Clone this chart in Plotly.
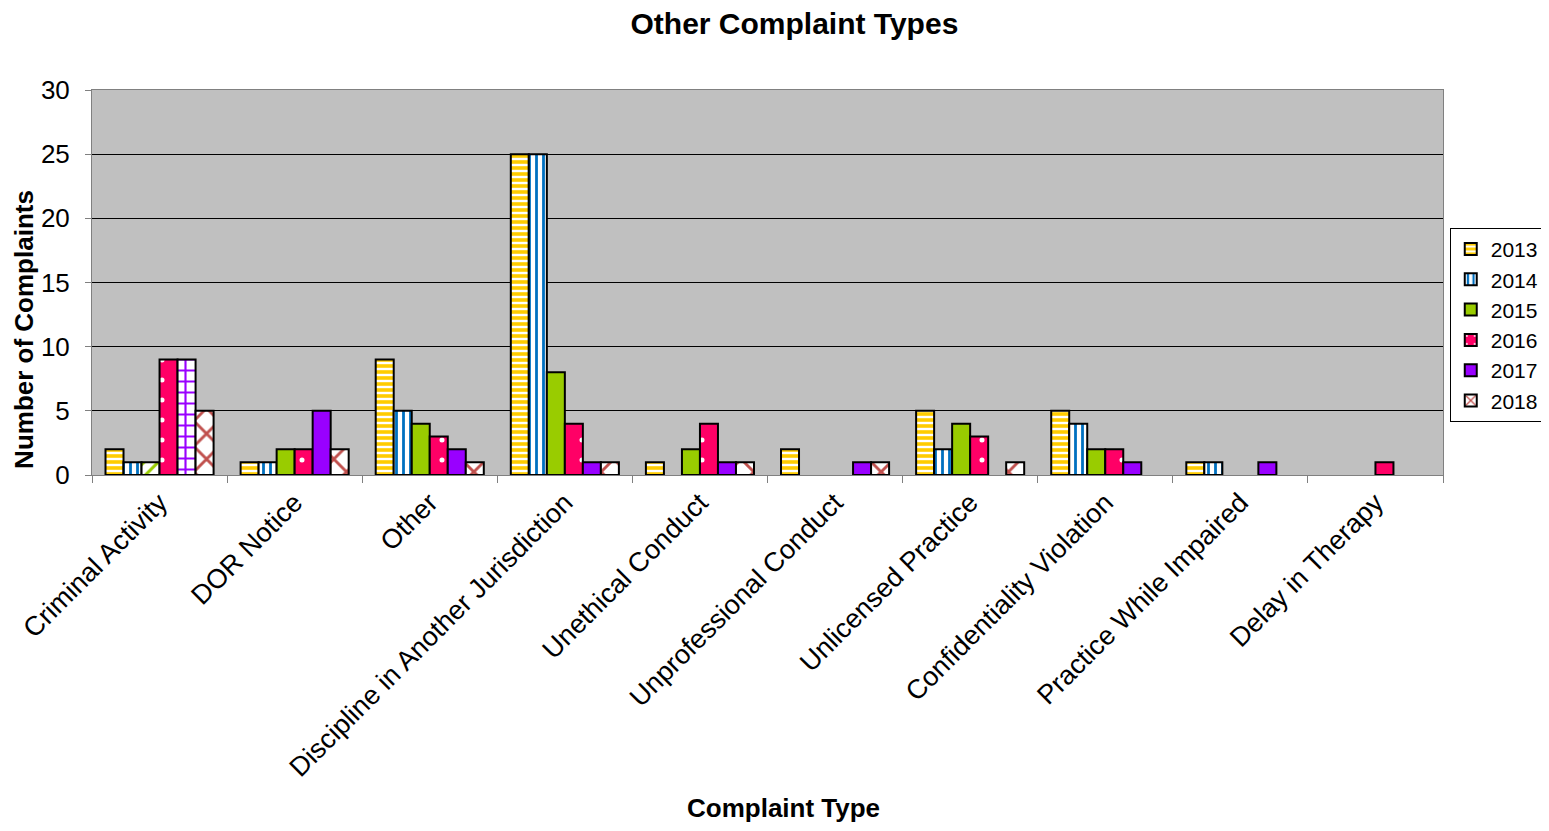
import plotly.graph_objects as go

categorias = ["Criminal Activity", "DOR Notice", "Other", "Discipline in Another Jurisdiction",
              "Unethical Conduct", "Unprofessional Conduct", "Unlicensed Practice",
              "Confidentiality Violation", "Practice While Impaired", "Delay in Therapy"]

anios = ["2013", "2014", "2015", "2016", "2017", "2018"]

v2013 = [2, 1, 9, 25, 1, 2, 5, 5, 1, 0]
v2014 = [1, 1, 5, 25, 0, 0, 2, 4, 1, 0]
v2015 = [1, 2, 4, 8, 2, 0, 4, 2, 0, 0]
v2016 = [9, 2, 3, 4, 4, 0, 3, 2, 0, 1]
v2017 = [9, 5, 2, 1, 1, 1, 0, 1, 1, 0]
v2018 = [5, 2, 1, 1, 1, 1, 1, 0, 0, 0]

valores = [v2013, v2014, v2015, v2016, v2017, v2018]

n = len(categorias)
# relleno de cada serie (la primera categoria usa otro patron en 2015 y 2017)
estilos = [
    dict(bgcolor="#FFCC00", fgcolor="white", shape="-", size=6, solidity=0.4),
    dict(bgcolor="white", fgcolor="#0070C0", shape="|", size=7, solidity=0.4),
    dict(bgcolor=["white"] + ["#99CC00"] * (n - 1), fgcolor="#99CC00",
         shape=["/"] + [""] * (n - 1), size=10, solidity=0.3),
    dict(bgcolor="#FF0066", fgcolor="white", shape=".", size=20, solidity=0.05),
    dict(bgcolor=["white"] + ["#9900FF"] * (n - 1), fgcolor="#9900FF",
         shape=["+"] + [""] * (n - 1), size=11, solidity=0.35),
    dict(bgcolor="white", fgcolor="#C0504D", shape="x", size=18, solidity=0.3),
]
colores = ["#FFCC00", "white", "#99CC00", "#FF0066", "#9900FF", "white"]

# la leyenda toma el primer punto: se empieza por la segunda categoria
orden = list(range(1, n)) + [0]


def reordenar(v):
    if isinstance(v, list):
        return [v[k] for k in orden]
    return v


fig = go.Figure()
for i in range(len(anios)):
    patron = {k: reordenar(v) for k, v in estilos[i].items()}
    fig.add_trace(
        go.Bar(
            x=[categorias[k] for k in orden],
            # las barras en cero no se dibujan
            y=[valores[i][k] if valores[i][k] != 0 else None for k in orden],
            name=anios[i],
            marker=dict(
                color=colores[i],
                line=dict(color="black", width=2),
                pattern=dict(fillmode="replace", **patron),
            ),
        )
    )

# titulos de los ejes como anotaciones
fig.add_annotation(
    text="<b>Number of Complaints</b>",
    textangle=-90,
    xref="paper", yref="paper",
    x=-0.0503, y=0.377,
    xanchor="center", yanchor="middle",
    showarrow=False,
    font=dict(size=26),
)
fig.add_annotation(
    text="<b>Complaint Type</b>",
    xref="paper", yref="paper",
    x=0.5115, y=-0.865,
    xanchor="center", yanchor="middle",
    showarrow=False,
    font=dict(size=26),
)

fig.update_layout(
    width=1533,
    height=815,
    barmode="group",
    bargap=0.2,
    bargroupgap=0,
    paper_bgcolor="white",
    plot_bgcolor="#C0C0C0",
    margin=dict(l=84, r=98, t=82, b=348, autoexpand=False),
    font=dict(family="Arial, Liberation Sans, sans-serif", size=22, color="black"),
    title=dict(text="<b>Other Complaint Types</b>", x=0.513, xanchor="center",
               y=0.994, yanchor="top", font=dict(size=30)),
    legend=dict(
        x=1.005, y=0.39, xanchor="left", yanchor="middle",
        bgcolor="white", bordercolor="black", borderwidth=1,
        font=dict(size=21), tracegroupgap=0, itemwidth=30,
    ),
)

fig.update_xaxes(
    categoryorder="array",
    categoryarray=categorias,
    automargin=False,
    tickangle=-45,
    tickfont=dict(size=27),
    ticks="outside",
    tickson="boundaries",
    ticklen=7,
    tickcolor="#808080",
    showline=True,
    linecolor="#808080",
    linewidth=1,
    mirror=True,
)
fig.update_yaxes(
    automargin=False,
    range=[0, 30],
    dtick=5,
    tickfont=dict(size=26),
    ticks="outside",
    ticklen=6,
    ticklabelstandoff=10,
    tickcolor="#808080",
    showgrid=True,
    gridcolor="black",
    gridwidth=1,
    showline=True,
    linecolor="#808080",
    linewidth=1,
    mirror=True,
    zeroline=False,
)

fig.write_html("out.html")
